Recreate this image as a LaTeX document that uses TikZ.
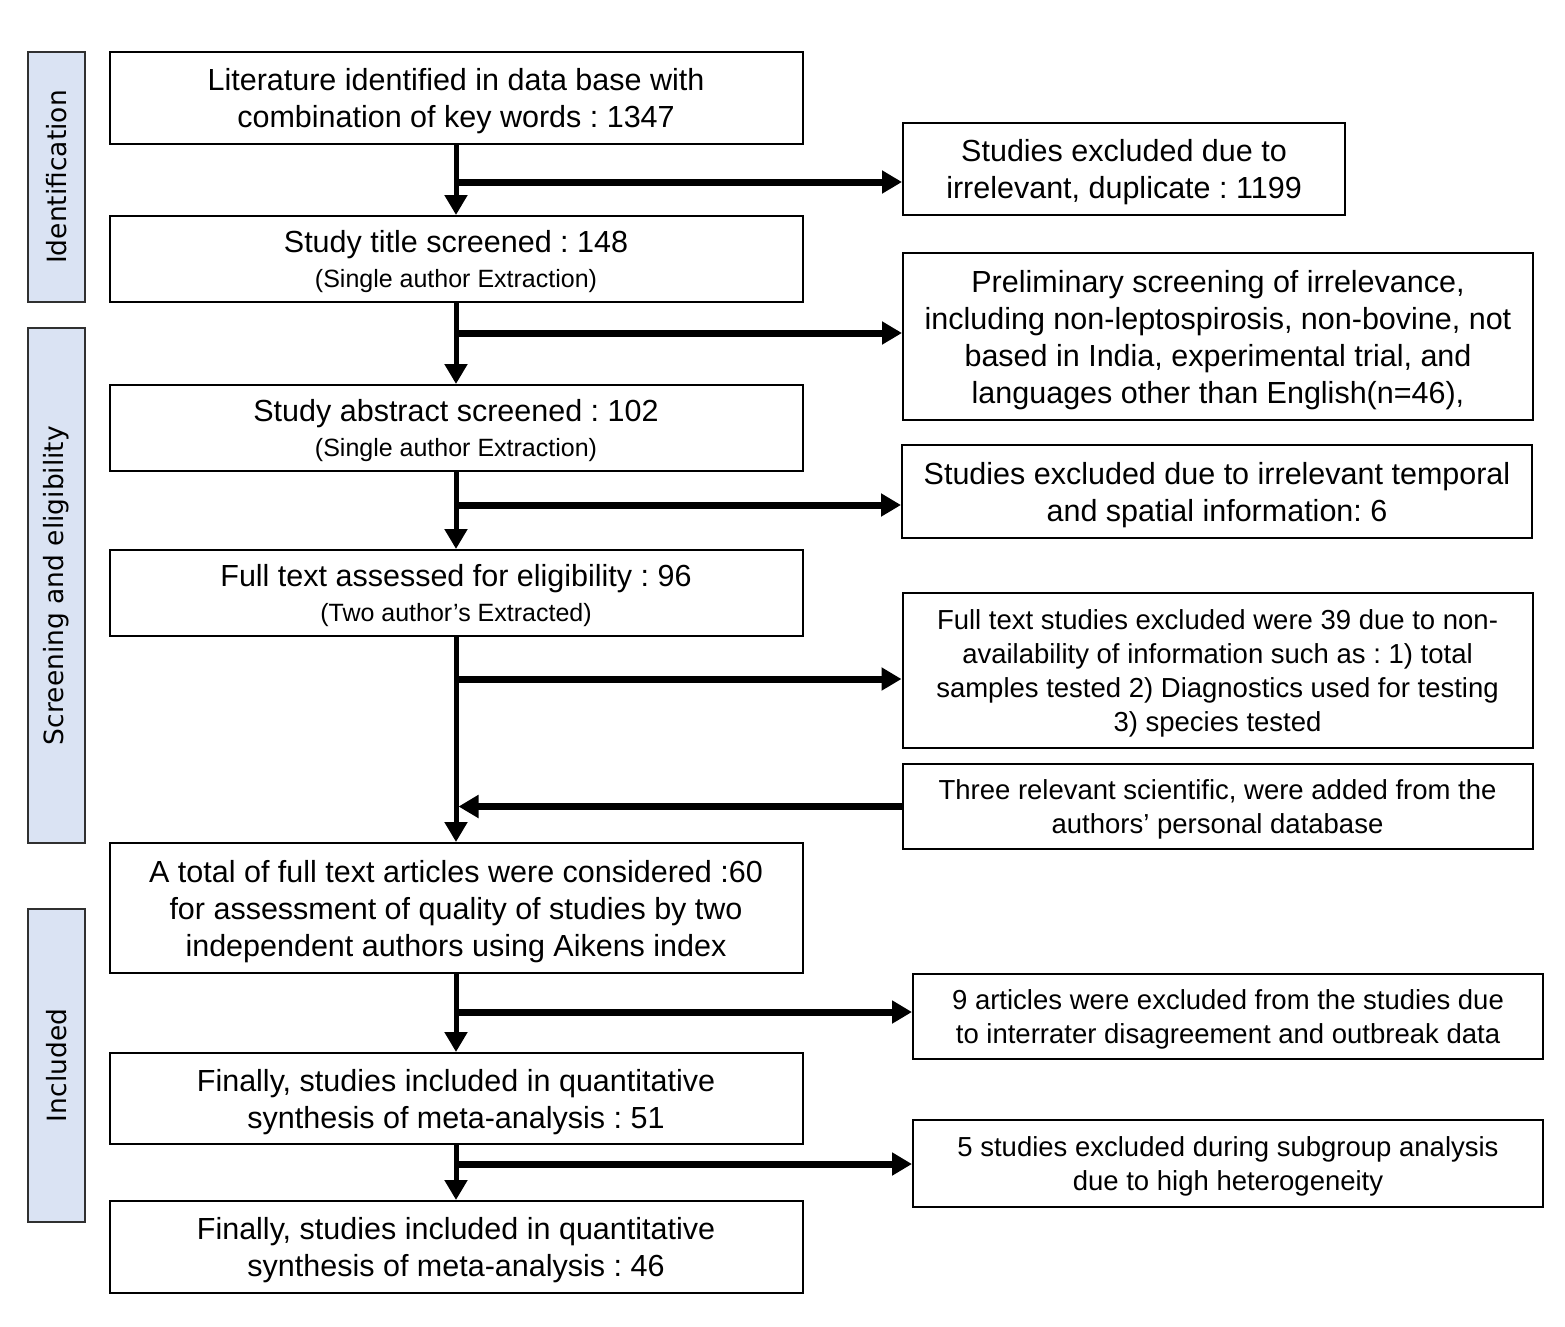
\documentclass[tikz,border=0pt]{standalone}
\usepackage{fontspec}
\setmainfont{Liberation Sans}
\newfontfamily\sidefont{DejaVu Sans}
\usetikzlibrary{arrows.meta}
\definecolor{sidefill}{HTML}{DAE3F3}
\definecolor{sideline}{HTML}{303030}
\frenchspacing
\newcommand{\subl}[1]{\\[-2pt]{\fontsize{25}{30}\selectfont #1}}
\begin{document}
\begin{tikzpicture}[x=1pt,y=-1pt,
  box/.style={draw=black, line width=2pt, inner sep=0pt, align=center, text depth=0pt,
    font=\fontsize{30.5}{37}\selectfont},
  mainbox/.style={box, minimum width=693pt},
  sidebox/.style={box, minimum width=630pt},
  smalltext/.style={font=\fontsize{27.5}{34}\selectfont},
  phase/.style={draw=sideline, fill=sidefill, line width=2.5pt, rotate=90,
    minimum height=57pt, inner sep=0pt, font=\sidefont\fontsize{26.5}{32}\selectfont},
  vflow/.style={line width=5pt, -{Triangle[length=20pt,width=22pt]}},
  hflow/.style={line width=7pt, -{Triangle[length=20pt,width=22pt]}}
]
\useasboundingbox (0,0) rectangle (1565,1326);

% phase labels
\node[phase, minimum width=250pt] (p1) at (56.5,177) {Identification};
\node[phase, minimum width=515pt] (p2) at (56.5,585.5) {Screening and eligibility};
\node[phase, minimum width=313pt] (p3) at (56.5,1065.5) {Included};

% main column
\node[mainbox, minimum height=92pt] (b1) at (456,98)
  {Literature identified in data base with\\combination of key words : 1347};
\node[mainbox, minimum height=86pt] (b2) at (456,259)
  {Study title screened : 148\subl{(Single author Extraction)}};
\node[mainbox, minimum height=86pt] (b3) at (456,428)
  {Study abstract screened : 102\subl{(Single author Extraction)}};
\node[mainbox, minimum height=86pt] (b4) at (456,593)
  {Full text assessed for eligibility : 96\subl{(Two author’s Extracted)}};
\node[mainbox, minimum height=130pt] (b5) at (456,908)
  {A total of full text articles were considered :60\\for assessment of quality of studies by two\\independent authors using Aikens index};
\node[mainbox, minimum height=91pt] (b6) at (456,1098.5)
  {Finally, studies included in quantitative\\synthesis of meta-analysis : 51};
\node[mainbox, minimum height=92pt] (b7) at (456,1247)
  {Finally, studies included in quantitative\\synthesis of meta-analysis : 46};

% side column
\node[box, minimum width=442pt, minimum height=92pt] (r1) at (1124,169)
  {Studies excluded due to\\irrelevant, duplicate : 1199};
\node[sidebox, minimum height=167pt] (r2) at (1218,336.5)
  {Preliminary screening of irrelevance,\\including non-leptospirosis, non-bovine, not\\based in India, experimental trial, and\\languages other than English(n=46),};
\node[sidebox, minimum height=93pt] (r3) at (1217,491.5)
  {Studies excluded due to irrelevant temporal\\and spatial information: 6};
\node[sidebox, smalltext, minimum height=155pt] (r4) at (1217.5,670.5)
  {Full text studies excluded were 39 due to non-\\availability of information such as : 1) total\\samples tested 2) Diagnostics used for testing\\3) species tested};
\node[sidebox, smalltext, minimum height=85pt] (r5) at (1217.5,806.5)
  {Three relevant scientific, were added from the\\authors’ personal database};
\node[sidebox, smalltext, minimum height=85pt] (r6) at (1228,1016.5)
  {9 articles were excluded from the studies due\\to interrater disagreement and outbreak data};
\node[sidebox, smalltext, minimum height=87pt] (r7) at (1228,1163.5)
  {5 studies excluded during subgroup analysis\\due to high heterogeneity};

% junctions
\coordinate (j1) at (b1.south |- 0,182);
\coordinate (j2) at (b2.south |- 0,333);
\coordinate (j3) at (b3.south |- 0,505);
\coordinate (j4) at (b4.south |- 0,679);
\coordinate (j6) at (b5.south |- 0,1012);
\coordinate (j7) at (b6.south |- 0,1164);

% vertical flow
\draw[vflow] (b1.south) -- (b2.north);
\draw[vflow] (b2.south) -- (b3.north);
\draw[vflow] (b3.south) -- (b4.north);
\draw[vflow] (b4.south) -- (b5.north);
\draw[vflow] (b5.south) -- (b6.north);
\draw[vflow] (b6.south) -- (b7.north);

% branches
\draw[hflow] (j1) -- (j1 -| r1.west);
\draw[hflow] (j2) -- (j2 -| r2.west);
\draw[hflow] (j3) -- (j3 -| r3.west);
\draw[hflow] (j4) -- (j4 -| r4.west);
\draw[hflow, shorten >=2.5pt] (r5.west) -- (r5.west -| b4.south);
\draw[hflow] (j6) -- (j6 -| r6.west);
\draw[hflow] (j7) -- (j7 -| r7.west);
\end{tikzpicture}
\end{document}
